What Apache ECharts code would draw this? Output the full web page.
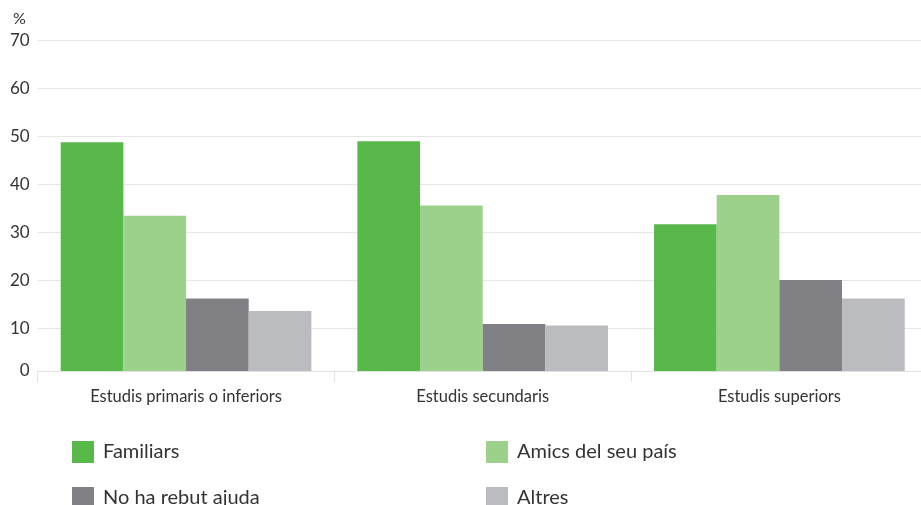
<!DOCTYPE html>
<html>
<head>
<meta charset="utf-8">
<script src="https://cdn.jsdelivr.net/npm/echarts@6/dist/echarts.min.js"></script>
<style>
	html, body { margin: 0; padding: 0; background: #fff; }
	#chart { width: 921px; height: 505px; }
</style>
</head>
<body>
<div id="chart"></div>
<script>
var categories = ['Estudis primaris o inferiors', 'Estudis secundaris', 'Estudis superiors'];
var familiars = [48.8, 49.0, 31.7];
var amics = [33.5, 35.6, 37.8];
var noAjuda = [16.2, 10.9, 20.1];
var altres = [13.6, 10.6, 16.2];

var FONT = 'Lato, "Noto Sans", sans-serif';

var myChart = echarts.init(document.getElementById('chart'));

function barSeries(name, data, color) {
	return {
		name: name,
		type: 'bar',
		data: data,
		barGap: '0%',
		barCategoryGap: '15.5%',
		itemStyle: { color: color },
		emphasis: { disabled: true }
	};
}

// one legend per entry so the 2x2 grid lines up like the original
function legendItem(name, left, top) {
	return {
		left: left,
		top: top,
		padding: 0,
		itemWidth: 22,
		itemHeight: 22,
		icon: 'rect',
		data: [name],
		textStyle: { fontSize: 20, color: '#333', fontFamily: FONT, padding: [0, 0, 0, 4] }
	};
}

var option = {
	animation: false,
	textStyle: { fontFamily: FONT },
	grid: {
		left: 37.7,
		width: 890,
		top: 40.7,
		bottom: 134,
		containLabel: false,
		outerBoundsMode: 'none'
	},
	graphic: [
		{
			type: 'text',
			left: 13,
			top: 11,
			style: { text: '%', font: '16px ' + FONT, fill: '#333' }
		}
	],
	legend: [
		legendItem('Familiars', 72, 441),
		legendItem('Amics del seu país', 486, 441),
		legendItem('No ha rebut ajuda', 72, 487),
		legendItem('Altres', 486, 487)
	],
	xAxis: {
		type: 'category',
		data: categories,
		axisLine: { lineStyle: { color: '#e2e2e2', width: 1 } },
		axisTick: { show: true, length: 11, lineStyle: { color: '#e2e2e2' } },
		axisLabel: { fontSize: 16.5, color: '#333', margin: 17, fontFamily: FONT }
	},
	yAxis: {
		type: 'value',
		min: 1.1,
		max: 70,
		axisLine: { show: false },
		axisTick: { show: false },
		axisLabel: {
			fontSize: 17,
			color: '#333',
			margin: 8,
			fontFamily: FONT,
			formatter: function (v) { return v < 2 ? '0' : v; }
		},
		splitLine: { lineStyle: { color: '#e6e6e6', width: 1 } }
	},
	series: [
		barSeries('Familiars', familiars, '#58b84a'),
		barSeries('Amics del seu país', amics, '#9dd08a'),
		barSeries('No ha rebut ajuda', noAjuda, '#818185'),
		barSeries('Altres', altres, '#bbbcc0')
	]
};

myChart.setOption(option);
</script>
</body>
</html>
